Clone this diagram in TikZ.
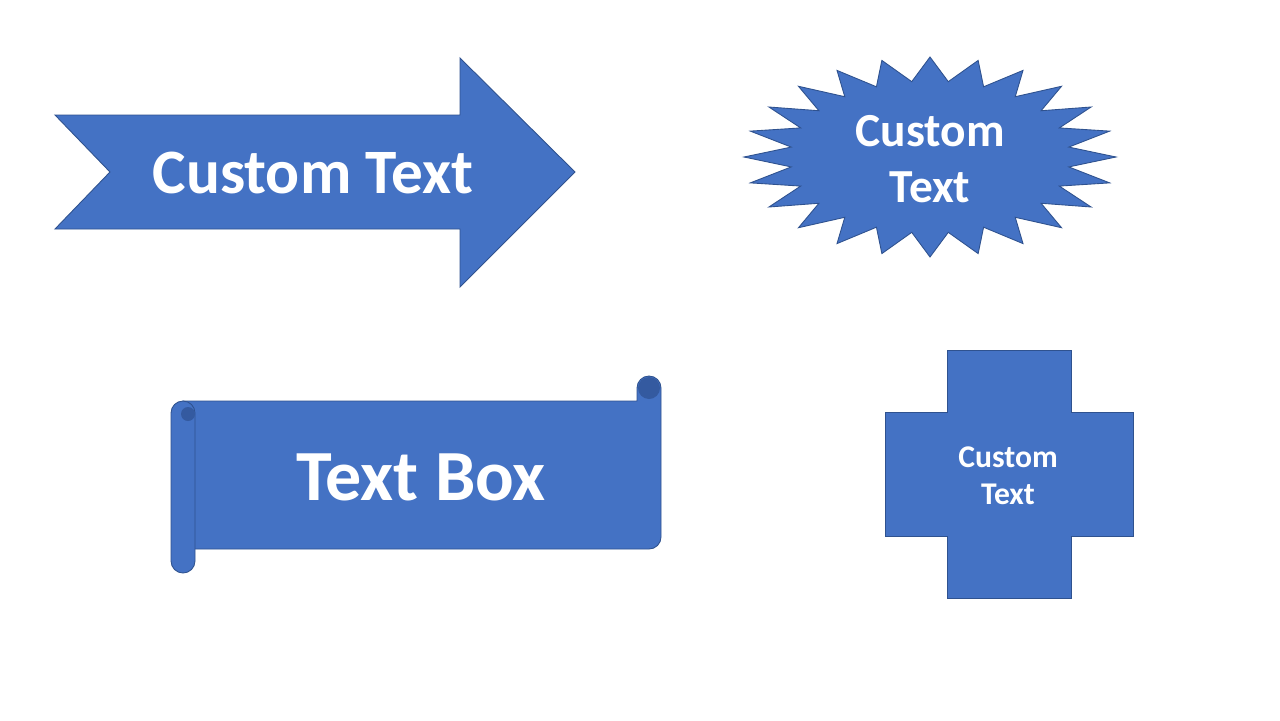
\documentclass[tikz,border=0pt]{standalone}
\usepackage{fontspec}
\setmainfont{Carlito}
\usetikzlibrary{positioning}
\definecolor{shapeblue}{RGB}{68,114,196}
\definecolor{shapeedge}{RGB}{47,82,143}
\definecolor{shapedark}{RGB}{52,90,160}

\begin{document}
\begin{tikzpicture}[x=0.02cm, y=-0.02cm,
  shapefill/.style={fill=shapeblue, draw=shapeedge, line width=0.5pt},
  shapetext/.style={text=white, align=center, inner sep=0pt}]
  \useasboundingbox[fill=white] (0,0) rectangle (1280,720);
  \draw[shapefill] (55,115) -- (460,115) -- (460,58) -- (575,172) -- (460,287) -- (460,229) -- (55,229) -- (110,172) -- cycle;
  \node[shapetext, font=\fontsize{36}{43}\selectfont\bfseries] (arrowtext) at (313,173) {Custom Text};

  \draw[shapefill] (930,57) \foreach \k in {1,...,24} {
    -- ({930+140*cos(97.5-15*\k)},{157-76*sin(97.5-15*\k)})
    -- ({930+186*cos(90-15*\k)},{157-100*sin(90-15*\k)}) } -- cycle;
  \node[shapetext, font=\fontsize{27}{32.3}\selectfont\bfseries] (startext) at (930,159) {Custom\\Text};

  \draw[shapefill] (183,401) -- (637,401) -- (637,388) arc (180:360:12) -- (661,537) arc (0:90:12) -- (183,549) -- cycle;
  \fill[shapedark] (649,388) circle (11);
  \draw[shapefill] (171,413) arc (180:360:12) -- (195,561) arc (0:180:12) -- cycle;
  \fill[shapedark] (188,414) circle (7);
  \node[shapetext, font=\fontsize{41}{48}\selectfont\bfseries] (scrolltext) at (421,477) {Text Box};

  \draw[shapefill] (947,350) -- (1071,350) -- (1071,412) -- (1133,412) -- (1133,536) -- (1071,536) -- (1071,598) -- (947,598) -- (947,536) -- (885,536) -- (885,412) -- (947,412) -- cycle;
  \node[shapetext, font=\fontsize{18}{21}\selectfont\bfseries] (crosstext) at (1008,476) {Custom\\Text};
\end{tikzpicture}
\end{document}
